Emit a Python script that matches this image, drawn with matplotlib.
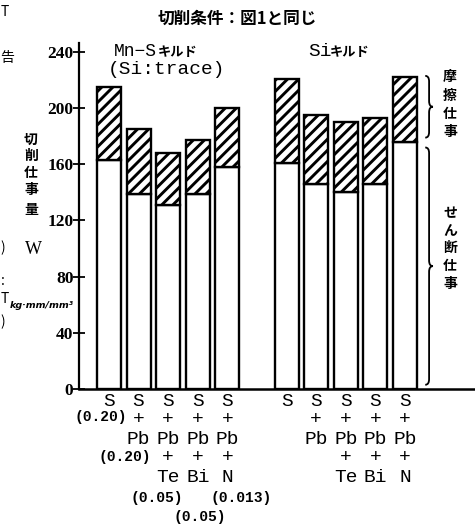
import numpy as np
import matplotlib
matplotlib.use("Agg")
from matplotlib import pyplot as plt
from matplotlib.path import Path
from matplotlib.patches import PathPatch
from matplotlib.transforms import blended_transform_factory

JP = ["Noto Sans CJK JP", "DejaVu Sans"]
MONO = ["Liberation Mono", "DejaVu Sans Mono"]
SERIF = ["Liberation Serif", "DejaVu Serif"]

# values (kg·mm/mm³)
shear_mns = [163, 139, 131, 139, 158]
total_mns = [215, 185, 168, 177, 200]
shear_si = [161, 146, 140, 146, 176]
total_si = [221, 195, 190, 193, 222]

bar_labels = [["S"], ["S", "+", "Pb"], ["S", "+", "Pb", "+", "Te"],
              ["S", "+", "Pb", "+", "Bi"], ["S", "+", "Pb", "+", "N"]]
yticks = [0, 40, 80, 120, 160, 200, 240]

plt.rcParams["hatch.linewidth"] = 2.1

W, H = 475, 530
fig = plt.figure(figsize=(W / 100, H / 100), dpi=100)


def fx(p):
    return p / W


def fy(p):
    return 1 - p / H


ax = fig.add_axes([fx(79), fy(389), 1 - fx(79), fy(43) - fy(389)])

pos_mns = np.arange(5)
pos_si = np.arange(5) + 6
shear = shear_mns + shear_si
total = total_mns + total_si
pos = np.concatenate([pos_mns, pos_si])
friction = np.array(total) - np.array(shear)

ax.bar(pos, shear, width=0.81, facecolor="white", edgecolor="black", linewidth=1.7)
ax.bar(pos, friction, bottom=shear, width=0.81, facecolor="white",
       edgecolor="black", linewidth=1.7, hatch="///")

ax.set_xlim(-1.01, 12.36)
ax.set_ylim(0, 246.4)
ax.set_xticks([])
ax.set_yticks(yticks)
ax.set_yticklabels([str(t) for t in yticks], family=SERIF, fontweight="bold", fontsize=12.5)
ax.tick_params(axis="y", direction="inout", length=8, width=1.3, pad=0)
for s in ["top", "right"]:
    ax.spines[s].set_visible(False)
ax.spines["left"].set_linewidth(1.6)
ax.spines["bottom"].set_linewidth(1.8)


def brace(x0, y0, y1, w, r):
    ym = (y0 + y1) / 2
    xm = x0 + w * 0.5
    verts = [(x0, y1), (xm, y1), (xm, y1 - r), (xm, ym + r),
             (xm, ym), (x0 + w, ym), (xm, ym), (xm, ym - r),
             (xm, y0 + r), (xm, y0), (x0, y0)]
    codes = [Path.MOVETO, Path.CURVE3, Path.CURVE3, Path.LINETO,
             Path.CURVE3, Path.CURVE3, Path.CURVE3, Path.CURVE3,
             Path.LINETO, Path.CURVE3, Path.CURVE3]
    ax.add_patch(PathPatch(Path(verts, codes), facecolor="none",
                           edgecolor="black", linewidth=1.3, clip_on=False))


brace(10.68, shear_si[-1] + 3, total_si[-1] + 1, 0.26, 4)
brace(10.68, 3, shear_si[-1] - 4, 0.26, 4)

# stacked labels under the bars
tr = blended_transform_factory(ax.transData, fig.transFigure)
rows_y = [402, 420, 440, 457, 477]
for group in (pos_mns, pos_si):
    for p, lab in zip(group, bar_labels):
        for k, t in enumerate(lab):
            ax.text(p, fy(rows_y[k]), t, transform=tr, ha="center", va="center",
                    family=MONO, fontsize=14)

for x, y, t in [(101, 417, "(0.20)"), (125, 457, "(0.20)"), (157, 498, "(0.05)"),
                (241, 498, "(0.013)"), (200, 517, "(0.05)")]:
    fig.text(fx(x), fy(y), t, ha="center", va="center", family=MONO,
             fontweight="bold", fontsize=10.5)

# title and group names
fig.text(fx(237), fy(19), "切削条件：図1と同じ", ha="center", va="center",
         family=JP, fontweight="bold", fontsize=12)
fig.text(fx(114), fy(51), "Mn−S", ha="left", va="center", family=MONO, fontsize=13)
fig.text(fx(158), fy(52), "キルド", ha="left", va="center", family=JP,
         fontweight="bold", fontsize=9.5)
fig.text(fx(108), fy(69), "(Si:trace)", ha="left", va="center", family=MONO, fontsize=14)
fig.text(fx(308), fy(51), "Si", ha="left", va="center", family=MONO, fontsize=14)
fig.text(fx(330), fy(52), "キルド", ha="left", va="center", family=JP,
         fontweight="bold", fontsize=9.5)

# y-axis label
for ch, y in zip("切削仕事量", [140, 156, 173, 190, 210]):
    fig.text(fx(31), fy(y), ch, ha="center", va="center", family=JP,
             fontweight="bold", fontsize=10)
fig.text(fx(33), fy(250), "W", ha="center", va="center", family=SERIF, fontsize=13)
fig.text(fx(42), fy(305), "kg·mm/mm³", ha="center", va="center", family="DejaVu Sans",
         fontweight="bold", style="italic", fontsize=6.8)

# brace labels
for ch, y in zip("摩擦仕事", [77, 96, 114, 132]):
    fig.text(fx(450), fy(y), ch, ha="center", va="center", family=JP,
             fontweight="bold", fontsize=10)
for ch, y in zip("せん断仕事", [213, 230, 248, 266, 284]):
    fig.text(fx(450), fy(y), ch, ha="center", va="center", family=JP,
             fontweight="bold", fontsize=10)

# bits of the neighbouring page text at the scan's left edge
for y, t in [(12, "T"), (58, "告"), (248, ")"), (281, ":"), (299, "T"), (322, ")")]:
    fig.text(fx(0.5), fy(y), t, ha="left", va="center", family=JP, fontsize=10)

fig.savefig("out.png", dpi=100)
